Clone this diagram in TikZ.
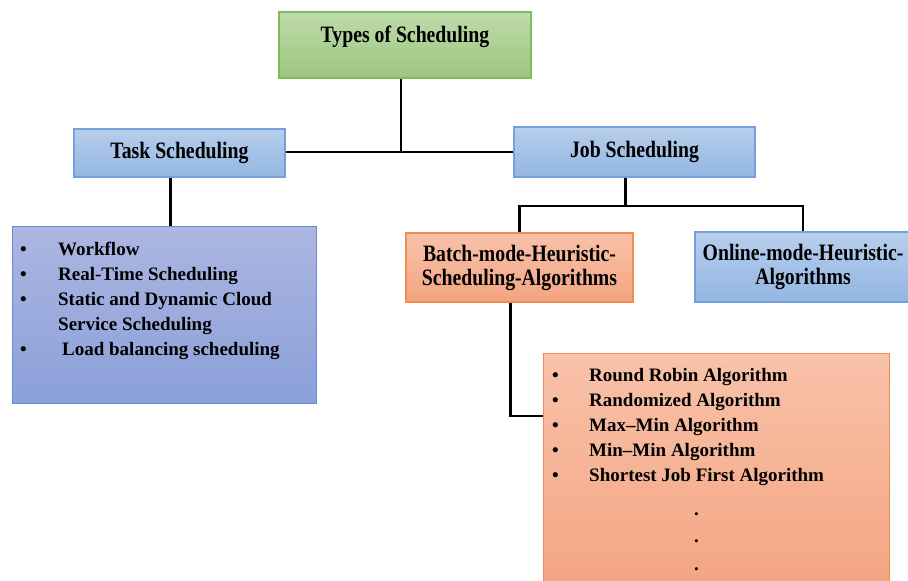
\documentclass[tikz,border=0pt]{standalone}
\usepackage{fontspec}
\setmainfont{Liberation Serif}
\newfontfamily\headfont[FakeStretch=0.84]{Liberation Serif}
\usetikzlibrary{positioning}

\definecolor{greentop}{RGB}{190,220,170}
\definecolor{greenbot}{RGB}{156,197,126}
\definecolor{greenline}{RGB}{130,186,96}
\definecolor{bluetop}{RGB}{184,206,236}
\definecolor{bluebot}{RGB}{146,182,226}
\definecolor{blueline}{RGB}{118,160,216}
\definecolor{violettop}{RGB}{172,182,226}
\definecolor{violetbot}{RGB}{138,160,216}
\definecolor{violetline}{RGB}{108,140,210}
\definecolor{orangetop}{RGB}{248,194,170}
\definecolor{orangebot}{RGB}{244,164,128}
\definecolor{orangeline}{RGB}{240,140,80}

\begin{document}
\begin{tikzpicture}[x=1pt,y=-1pt,
	box/.style={rectangle,line width=1.2pt,inner sep=0pt,
		font=\headfont\bfseries\fontsize{23.5}{24}\selectfont},
	greenbox/.style={box,draw=greenline,top color=greentop,bottom color=greenbot},
	bluebox/.style={box,draw=blueline,top color=bluetop,bottom color=bluebot},
	violetbox/.style={box,draw=violetline,top color=violettop,bottom color=violetbot},
	orangebox/.style={box,draw=orangeline,top color=orangetop,bottom color=orangebot},
	list/.style={anchor=north west,align=left,inner sep=0pt,
		font=\bfseries\fontsize{19}{25}\selectfont},
	link/.style={draw=black,line width=2.6pt}]

	\useasboundingbox (0,0) rectangle (908,581);

	% top level
	\node [greenbox,minimum width=252pt,text height=30pt,text depth=36pt] (root) at (405,45) {Types of Scheduling};
	\node [bluebox,minimum width=211pt,minimum height=48pt] (task) at (179.5,153) {Task Scheduling};
	\node [bluebox,minimum width=241pt,minimum height=50pt] (job) at (634.5,152) {Job Scheduling};

	% second level
	\node [orangebox,minimum width=227pt,minimum height=69pt,align=center] (batch) at (519.5,267.5)
		{Batch-mode-Heuristic-\\Scheduling-Algorithms};
	\node [bluebox,minimum width=216pt,minimum height=70pt,align=center] (online) at (803,267)
		{Online-mode-Heuristic-\\Algorithms};

	% lists
	\node [violetbox,anchor=north west,minimum width=304pt,minimum height=177pt] (taskbox) at (12,226) {};
	\node [list] (tasklist) at (20,242) {%
		\makebox[38pt][l]{\textbullet}Workflow\\
		\makebox[38pt][l]{\textbullet}Real-Time Scheduling\\
		\makebox[38pt][l]{\textbullet}Static and Dynamic Cloud\\
		\hspace*{38pt}Service Scheduling\\
		\makebox[42pt][l]{\textbullet}Load balancing scheduling};

	\node [orangebox,anchor=north west,minimum width=346pt,minimum height=240pt] (algbox) at (543,353) {};
	\node [list] (alglist) at (552,368) {%
		\makebox[37pt][l]{\textbullet}Round Robin Algorithm\\
		\makebox[37pt][l]{\textbullet}Randomized Algorithm\\
		\makebox[37pt][l]{\textbullet}Max--Min Algorithm\\
		\makebox[37pt][l]{\textbullet}Min--Min Algorithm\\
		\makebox[37pt][l]{\textbullet}Shortest Job First Algorithm\\[9pt]
		\hspace*{142pt}.\\[2pt]
		\hspace*{142pt}.\\[3pt]
		\hspace*{142pt}.};

	% connectors
	\coordinate (rootjoin) at ([xshift=-4pt]root.south |- job.west);
	\coordinate (jobsplit) at ([xshift=-9pt]job.south |- 0,206);
	\draw [link] ([xshift=-4pt]root.south) -- (rootjoin);
	\draw [link] (task.east |- job.west) -- (job.west);
	\draw [link] ([xshift=-9pt]task.south) -- ([xshift=-9pt]task.south |- taskbox.north);
	\draw [link] ([xshift=-9pt]job.south) -- (jobsplit);
	\draw [link] (batch.north) |- (jobsplit) -| (online.north);
	\draw [link] ([xshift=-9pt]batch.south) |- ([yshift=-63pt]algbox.north west);
\end{tikzpicture}
\end{document}
